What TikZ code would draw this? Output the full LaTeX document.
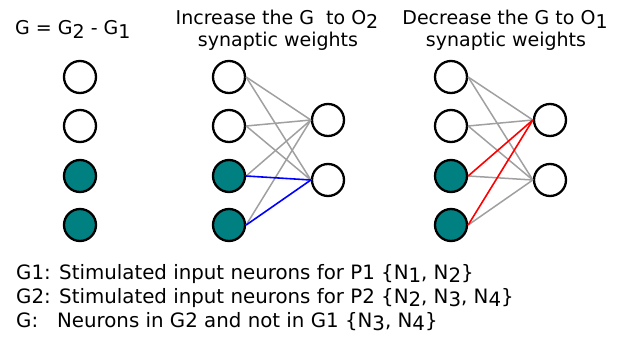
\documentclass[tikz,border=0pt]{standalone}
\usepackage{fontspec}
\setmainfont{DejaVu Sans}
\definecolor{tealfill}{HTML}{008080}
\definecolor{edgegray}{HTML}{A0A0A0}
\newcommand{\sbx}[1]{\raisebox{-0.35ex}{#1}}
\begin{document}
\begin{tikzpicture}[x=1pt,y=-1pt,
  neuron/.style={circle,draw=black,line width=2.3pt,minimum size=32pt,inner sep=0pt,fill=white},
  gneuron/.style={neuron,fill=tealfill},
  syn/.style={draw=edgegray,line width=1.5pt},
  synblue/.style={draw=blue,line width=1.6pt},
  synred/.style={draw=red,line width=1.6pt},
  lbl/.style={font=\fontsize{19}{24}\selectfont,inner sep=0pt},
  leg/.style={font=\fontsize{19.8}{24}\selectfont,inner sep=0pt,anchor=base west}]
\useasboundingbox (0,0) rectangle (624,345);
% headings
\node[lbl,anchor=base west] (h1) at (15,35) {G = G\sbx{2} - G\sbx{1}};
\node[lbl,anchor=base] (h2a) at (277,25) {Increase the G\ \ to O\sbx{2}};
\node[lbl,anchor=base] (h2b) at (278,47) {synaptic weights};
\node[lbl,anchor=base] (h3a) at (505,25) {Decrease the G to O\sbx{1}};
\node[lbl,anchor=base] (h3b) at (506,47) {synaptic weights};
% left column
\node[neuron]  (a1) at (80,77) {};
\node[neuron]  (a2) at (80,126) {};
\node[gneuron] (a3) at (80,176) {};
\node[gneuron] (a4) at (80,225) {};
% middle network
\node[neuron]  (b1) at (229,77) {};
\node[neuron]  (b2) at (229,126) {};
\node[gneuron] (b3) at (229,176) {};
\node[gneuron] (b4) at (229,225) {};
\node[neuron]  (bo1) at (328,120) {};
\node[neuron]  (bo2) at (328,180) {};
% right network
\node[neuron]  (c1) at (451,77) {};
\node[neuron]  (c2) at (451,126) {};
\node[gneuron] (c3) at (451,176) {};
\node[gneuron] (c4) at (451,225) {};
\node[neuron]  (co1) at (550,120) {};
\node[neuron]  (co2) at (550,180) {};
% middle edges
\draw[syn] (b1.east) -- (bo1.west);
\draw[syn] (b1.east) -- (bo2.west);
\draw[syn] (b2.east) -- (bo1.west);
\draw[syn] (b2.east) -- (bo2.west);
\draw[syn] (b3.east) -- (bo1.west);
\draw[syn] (b4.east) -- (bo1.west);
\draw[synblue] (b3.east) -- (bo2.west);
\draw[synblue] (b4.east) -- (bo2.west);
% right edges
\draw[syn] (c1.east) -- (co1.west);
\draw[syn] (c1.east) -- (co2.west);
\draw[syn] (c2.east) -- (co1.west);
\draw[syn] (c2.east) -- (co2.west);
\draw[syn] (c3.east) -- (co2.west);
\draw[syn] (c4.east) -- (co2.west);
\draw[synred] (c3.east) -- (co1.west);
\draw[synred] (c4.east) -- (co1.west);
% legend
\node[leg] (l1) at (16,279) {G1: Stimulated input neurons for P1 \{N\sbx{1}, N\sbx{2}\}};
\node[leg] (l2) at (16,303) {G2: Stimulated input neurons for P2 \{N\sbx{2}, N\sbx{3}, N\sbx{4}\}};
\node[leg] (l3) at (16,327) {G:\ \ \ Neurons in G2 and not in G1 \{N\sbx{3}, N\sbx{4}\}};
\end{tikzpicture}
\end{document}
